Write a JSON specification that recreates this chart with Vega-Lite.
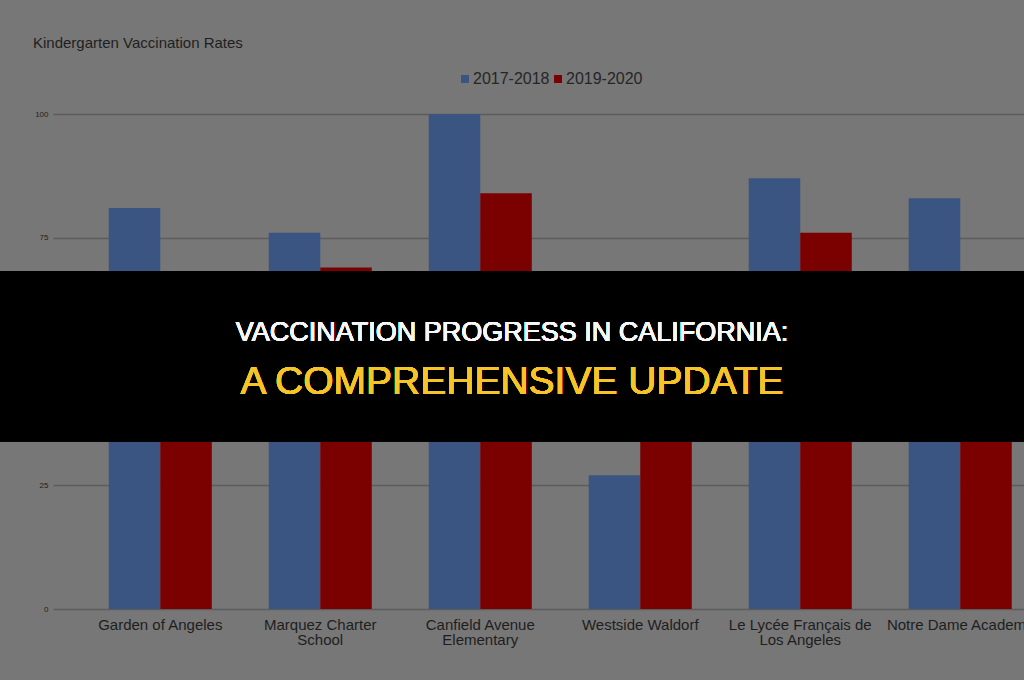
{
  "$schema": "https://vega.github.io/schema/vega-lite/v6.json",
  "width": 1024,
  "height": 495,
  "autosize": {"type": "none"},
  "padding": {"left": 0, "top": 114, "right": 0, "bottom": 71},
  "background": "#777777",
  "title": {
    "text": "Kindergarten Vaccination Rates",
    "anchor": "start",
    "frame": "group",
    "dx": 33,
    "offset": 20,
    "fontSize": 15,
    "fontWeight": "normal",
    "font": "Liberation Sans",
    "color": "#1f1f1f"
  },
  "config": {
    "view": {"stroke": null},
    "font": "Liberation Sans"
  },
  "data": {
    "values": [
      {"school": "Garden of Angeles", "season": "2017-2018", "rate": 81},
      {"school": "Garden of Angeles", "season": "2019-2020", "rate": 57},
      {"school": "Marquez Charter School", "season": "2017-2018", "rate": 76},
      {"school": "Marquez Charter School", "season": "2019-2020", "rate": 69},
      {"school": "Canfield Avenue Elementary", "season": "2017-2018", "rate": 100},
      {"school": "Canfield Avenue Elementary", "season": "2019-2020", "rate": 84},
      {"school": "Westside Waldorf", "season": "2017-2018", "rate": 27},
      {"school": "Westside Waldorf", "season": "2019-2020", "rate": 43},
      {"school": "Le Lycée Français de Los Angeles", "season": "2017-2018", "rate": 87},
      {"school": "Le Lycée Français de Los Angeles", "season": "2019-2020", "rate": 76},
      {"school": "Notre Dame Academy", "season": "2017-2018", "rate": 83},
      {"school": "Notre Dame Academy", "season": "2019-2020", "rate": 64}
    ]
  },
  "layer": [
    {
      "mark": {"type": "bar"},
      "encoding": {
        "x": {
          "field": "school",
          "type": "nominal",
          "sort": null,
          "scale": {"range": [53, 1024], "paddingInner": 0.356, "paddingOuter": 0.2125, "align": 0.82},
          "axis": {
            "title": null,
            "domain": false,
            "ticks": false,
            "labelAngle": 0,
            "labelFontSize": 15,
            "labelLineHeight": 15,
            "labelPadding": 8,
            "labelColor": "#1e1e1e",
            "labelFont": "Liberation Sans",
            "labelOverlap": false,
            "labelBound": false,
            "labelLimit": 300,
            "labelExpr": "datum.value == 'Marquez Charter School' ? ['Marquez Charter', 'School'] : datum.value == 'Canfield Avenue Elementary' ? ['Canfield Avenue', 'Elementary'] : datum.value == 'Le Lycée Français de Los Angeles' ? ['Le Lycée Français de', 'Los Angeles'] : datum.value"
          }
        },
        "xOffset": {
          "field": "season",
          "type": "nominal",
          "scale": {"paddingInner": 0, "paddingOuter": 0}
        },
        "y": {
          "field": "rate",
          "type": "quantitative",
          "scale": {"domain": [0, 100], "nice": false},
          "axis": {
            "title": null,
            "values": [0, 25, 50, 75, 100],
            "offset": -53,
            "labelPadding": 5,
            "ticks": false,
            "domain": false,
            "grid": true,
            "gridColor": "#5c5c5c",
            "gridWidth": 1.5,
            "labelFontSize": 8,
            "labelColor": "#1e1e1e",
            "labelFont": "Liberation Sans"
          }
        },
        "color": {
          "field": "season",
          "type": "nominal",
          "scale": {"domain": ["2017-2018", "2019-2020"], "range": ["#3a5582", "#7b0000"]},
          "legend": {
            "title": null,
            "orient": "none",
            "legendX": 457,
            "legendY": -43,
            "direction": "horizontal",
            "symbolType": "square",
            "symbolSize": 64,
            "symbolStrokeWidth": 0,
            "labelFontSize": 16,
            "labelColor": "#262626",
            "labelFont": "Liberation Sans",
            "labelOffset": 0,
            "columnPadding": 0
          }
        }
      }
    },
    {
      "mark": {"type": "rect", "fill": "#000000", "fillOpacity": 0.79, "strokeWidth": 0},
      "encoding": {
        "y": {"datum": 68.3, "type": "quantitative"},
        "y2": {"datum": 33.9}
      }
    },
    {
      "mark": {"type": "text", "color": "#f7f7f7", "fontSize": 27, "font": "Liberation Sans", "baseline": "middle", "align": "center"},
      "encoding": {
        "y": {"datum": 55.8, "type": "quantitative"},
        "text": {"value": "VACCINATION PROGRESS IN CALIFORNIA:"}
      }
    },
    {
      "mark": {"type": "text", "color": "#f6c427", "fontSize": 39, "font": "Liberation Sans", "baseline": "middle", "align": "center"},
      "encoding": {
        "y": {"datum": 45.9, "type": "quantitative"},
        "text": {"value": "A COMPREHENSIVE UPDATE"}
      }
    }
  ]
}
